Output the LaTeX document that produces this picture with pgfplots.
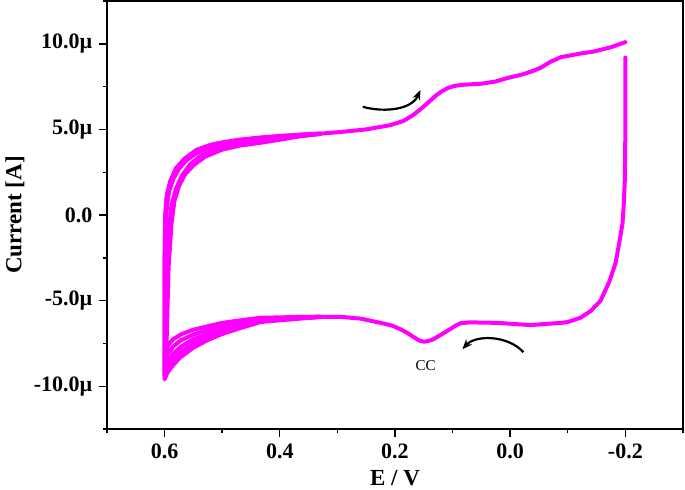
\documentclass[border=0pt]{standalone}
\usepackage{pgfplots}
\pgfplotsset{compat=1.18}
\usepackage{fontspec}
\setmainfont{Liberation Serif}
\usetikzlibrary{arrows.meta}
\definecolor{cvmag}{RGB}{255,0,255}
\begin{document}
\begin{tikzpicture}
\path[use as bounding box] (-53.5pt,-30pt) rectangle (289pt,214.5pt);
\begin{axis}[
 scale only axis, width=288pt, height=214pt,
 x dir=reverse, xmin=-0.3, xmax=0.7, ymin=-12.5, ymax=12.5,
 xtick={-0.2,0,0.2,0.4,0.6}, xticklabels={-0.2,0.0,0.2,0.4,0.6},
 minor xtick={-0.3,-0.1,0.1,0.3,0.5,0.7},
 ytick={-10,-5,0,5,10}, yticklabels={-10.0µ,-5.0µ,0.0,5.0µ,10.0µ},
 minor ytick={-12.5,-7.5,-2.5,2.5,7.5,12.5},
 tick align=outside, xtick pos=bottom, ytick pos=left,
 major tick length=3.8pt, minor tick length=2.2pt,
 tick style={black, line width=0.7pt},
 axis line style={line width=0.7pt},
 ticklabel style={font=\bfseries\fontsize{11}{13}\selectfont},
 xlabel={E / V}, ylabel={Current [A]},
 label style={font=\bfseries\fontsize{11.5}{13}\selectfont},
 xlabel style={at={(axis description cs:0.5,-0.1145)}, anchor=center},
 ylabel style={at={(axis description cs:-0.1597,0.5)}, anchor=center},
 every axis plot/.append style={line cap=round, line join=round},
]
% outer cycle (left part)
\addplot[cvmag, line width=2pt] coordinates {
(0.33,-5.96) (0.364,-6.05) (0.40,-6.15) (0.433,-6.25) (0.468,-6.6) (0.50,-6.95)
(0.525,-7.3) (0.55,-7.75) (0.572,-8.3) (0.585,-8.75) (0.595,-9.2)
(0.6,-9.6) (0.6,-3) (0.599,0) (0.596,1.2) (0.59,2.0) (0.58,2.75)
(0.565,3.3) (0.545,3.8) (0.52,4.1) (0.498,4.25) (0.47,4.4) (0.433,4.53)
(0.40,4.62) (0.364,4.7) (0.33,4.76)
};
% second cycle (left part)
\addplot[cvmag, line width=2pt] coordinates {
(0.33,-5.95) (0.364,-6.02) (0.40,-6.1) (0.433,-6.2) (0.468,-6.5) (0.5,-6.8)
(0.525,-7.12) (0.55,-7.5) (0.572,-8.0) (0.585,-8.42) (0.596,-8.95)
(0.6,-9.42) (0.6,-3) (0.599,-0.5) (0.597,0.9) (0.591,1.75) (0.583,2.45)
(0.569,3.05) (0.552,3.55) (0.53,3.95) (0.505,4.2) (0.47,4.38) (0.433,4.5)
(0.4,4.59) (0.364,4.68) (0.33,4.75)
};
% fourth cycle (left part)
\addplot[cvmag, line width=2pt] coordinates {
(0.33,-5.95) (0.364,-5.98) (0.40,-6.02) (0.433,-6.08) (0.468,-6.28) (0.5,-6.48)
(0.525,-6.72) (0.55,-6.98) (0.572,-7.32) (0.585,-7.68) (0.595,-8.15)
(0.599,-8.75) (0.598,-8.5) (0.595,-3) (0.592,-0.7) (0.588,0.6) (0.58,1.55)
(0.57,2.3) (0.556,2.95) (0.538,3.45) (0.512,3.85) (0.485,4.1) (0.452,4.3)
(0.40,4.47) (0.364,4.62) (0.33,4.74)
};
% inner cycle (left part)
\addplot[cvmag, line width=2pt] coordinates {
(0.33,-5.94) (0.364,-5.95) (0.40,-5.98) (0.433,-6.0) (0.468,-6.15) (0.5,-6.3)
(0.525,-6.5) (0.55,-6.7) (0.57,-6.95) (0.585,-7.25) (0.594,-7.6)
(0.598,-8.2) (0.597,-8) (0.593,-3) (0.588,-0.5) (0.583,0.8) (0.575,1.7)
(0.565,2.35) (0.55,2.9) (0.53,3.4) (0.5,3.82) (0.47,4.05) (0.433,4.22)
(0.40,4.4) (0.364,4.6) (0.33,4.73)
};
% main cycle
\addplot[cvmag, line width=2pt] coordinates {
(-0.2,9.2) (-0.2,5) (-0.199,2) (-0.197,0.5) (-0.195,-0.5) (-0.19,-1.5)
(-0.183,-2.8) (-0.172,-3.9) (-0.157,-5.0) (-0.14,-5.6) (-0.122,-6.0)
(-0.1,-6.25) (-0.0875,-6.3) (-0.035,-6.43) (0.022,-6.3) (0.07,-6.27)
(0.086,-6.32) (0.094,-6.45) (0.105,-6.68) (0.118,-6.95) (0.133,-7.25)
(0.142,-7.36) (0.15,-7.4) (0.158,-7.33) (0.168,-7.12) (0.18,-6.86)
(0.19,-6.68) (0.205,-6.46) (0.225,-6.3) (0.26,-6.05) (0.294,-5.95)
(0.33,-5.95) (0.364,-6.0) (0.40,-6.05) (0.433,-6.15) (0.468,-6.4)
(0.50,-6.65) (0.525,-6.95) (0.55,-7.25) (0.572,-7.7) (0.585,-8.1)
(0.596,-8.7) (0.6,-9.3) (0.6,-9.0) (0.599,-5) (0.598,-1) (0.596,0.5)
(0.592,1.4) (0.585,2.1) (0.575,2.7) (0.562,3.2) (0.545,3.6) (0.525,3.9)
(0.50,4.15) (0.47,4.35) (0.433,4.45) (0.40,4.55) (0.364,4.65) (0.33,4.75)
(0.294,4.85) (0.25,5.0) (0.208,5.25) (0.185,5.5) (0.168,5.85) (0.155,6.2)
(0.143,6.55) (0.13,6.95) (0.12,7.2) (0.108,7.42) (0.098,7.53) (0.085,7.6)
(0.075,7.62) (0.05,7.67) (0.025,7.8) (0.005,8.0) (-0.02,8.2) (-0.04,8.42)
(-0.053,8.6) (-0.07,8.95) (-0.088,9.22) (-0.12,9.42) (-0.145,9.55)
(-0.175,9.8) (-0.2,10.1)
};
% scan direction arrows
\draw[-{Stealth[length=5pt,width=4pt]}, line width=1.1pt]
 (axis cs:0.256,6.32) .. controls (axis cs:0.215,5.95) and (axis cs:0.17,6.2) .. (axis cs:0.156,7.3);
\draw[-{Stealth[length=5pt,width=4pt]}, line width=1.1pt]
 (axis cs:-0.023,-8.01) .. controls (axis cs:0.005,-7.0) and (axis cs:0.06,-7.0) .. (axis cs:0.083,-7.84);
\node[font=\fontsize{7.5}{9}\selectfont] at (axis cs:0.147,-8.77) {CC};
\end{axis}
\end{tikzpicture}
\end{document}
